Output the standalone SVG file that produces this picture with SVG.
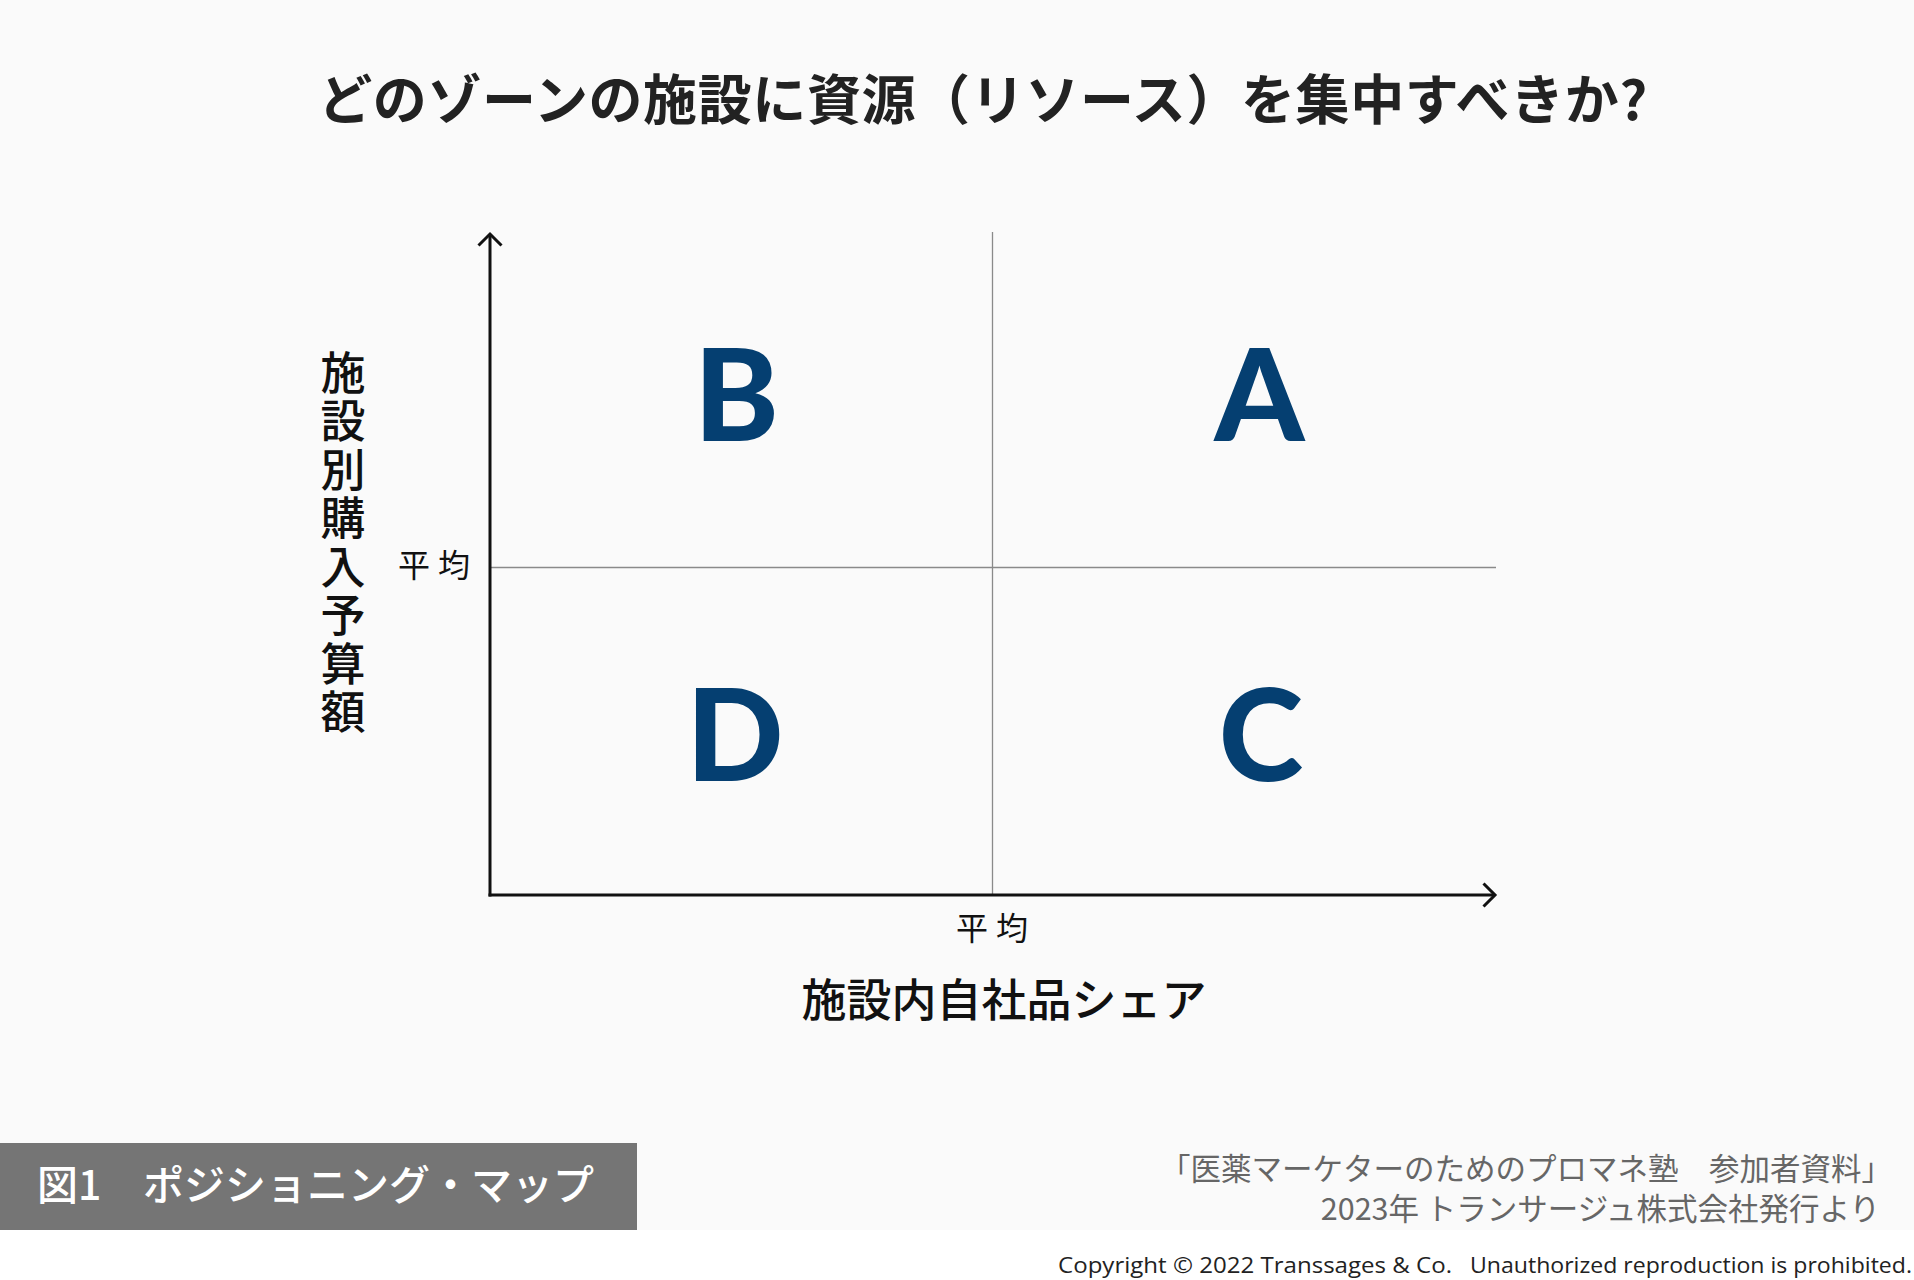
<svg xmlns="http://www.w3.org/2000/svg" width="1914" height="1280" viewBox="0 0 1914 1280">
  <style>
    .jp { font-family: "Noto Sans CJK JP", "Noto Sans CJK SC", sans-serif; }
    .title { font-size: 54px; font-weight: 700; fill: #222222; letter-spacing: 0.6px; }
    .axisTitle { font-size: 45px; font-weight: 500; fill: #111111; }
    .vert { writing-mode: vertical-rl; letter-spacing: 3.5px; }
    .avg { font-size: 32px; font-weight: 400; fill: #111111; letter-spacing: 8px; }
    .zone { font-family: "Lato", "Noto Sans", sans-serif; font-size: 128px; font-weight: 900; fill: #053f71; text-anchor: middle; }
    .fig { font-size: 41px; font-weight: 500; fill: #ffffff; }
    .src { font-size: 30.5px; font-weight: 400; fill: #666666; text-anchor: end; }
    .copy { font-family: "Open Sans", "Noto Sans", sans-serif; font-size: 21px; fill: #222222; }
    .axis { stroke: #111111; stroke-width: 3; fill: none; }
    .grid { stroke: #8a8a8a; stroke-width: 1.3; fill: none; }
  </style>
  <defs>
    <marker id="arr" markerUnits="userSpaceOnUse" markerWidth="30" markerHeight="30" refX="0" refY="0" orient="auto" overflow="visible" viewBox="-15 -15 30 30">
      <path d="M-11.5,-11.5 L0,0 L-11.5,11.5" fill="none" stroke="#111111" stroke-width="3" stroke-linejoin="miter"/>
    </marker>
  </defs>

  <rect x="0" y="0" width="1914" height="1230" fill="#fafafa"/>
  <rect x="0" y="1230" width="1914" height="50" fill="#ffffff"/>

  <g id="title">
    <text class="jp title" x="983" y="120" text-anchor="middle">どのゾーンの施設に資源（リソース）を集中すべきか?</text>
  </g>

  <g id="connectors">
    <line class="grid" x1="992.5" y1="232" x2="992.5" y2="895"/>
    <line class="grid" x1="490" y1="567.5" x2="1496" y2="567.5"/>
    <line class="axis" x1="490" y1="896.5" x2="490" y2="234" marker-end="url(#arr)"/>
    <line class="axis" x1="488.5" y1="895" x2="1495" y2="895" marker-end="url(#arr)"/>
  </g>

  <g id="zone-B"><text class="zone" x="736.5" y="441">B</text></g>
  <g id="zone-A"><text class="zone" x="1259.5" y="441">A</text></g>
  <g id="zone-D"><text class="zone" x="735" y="781">D</text></g>
  <g id="zone-C"><text class="zone" x="1261" y="781">C</text></g>

  <g id="y-avg"><text class="jp avg" x="398" y="577">平均</text></g>
  <g id="x-avg"><text class="jp avg" x="956" y="940">平均</text></g>

  <g id="y-axis-title">
    <text class="jp axisTitle vert" x="343" y="350">施設別購入予算額</text>
  </g>

  <g id="x-axis-title">
    <text class="jp axisTitle" x="1004" y="1017" text-anchor="middle">施設内自社品シェア</text>
  </g>

  <g id="figure-label">
    <rect x="0" y="1143" width="637" height="87" fill="#757575"/>
    <text class="jp fig" x="37" y="1200">図1</text>
    <text class="jp fig" x="143" y="1200">ポジショニング・マップ</text>
  </g>

  <g id="source">
    <text class="jp src" x="1892" y="1180">「医薬マーケターのためのプロマネ塾　参加者資料」</text>
    <text class="jp src" x="1880" y="1220">2023年 トランサージュ株式会社発行より</text>
  </g>

  <g id="copyright">
    <text class="copy" x="1058" y="1273" textLength="394" lengthAdjust="spacingAndGlyphs">Copyright © 2022 Transsages &amp; Co.</text>
    <text class="copy" x="1470" y="1273" textLength="442" lengthAdjust="spacingAndGlyphs">Unauthorized reproduction is prohibited.</text>
  </g>
</svg>
